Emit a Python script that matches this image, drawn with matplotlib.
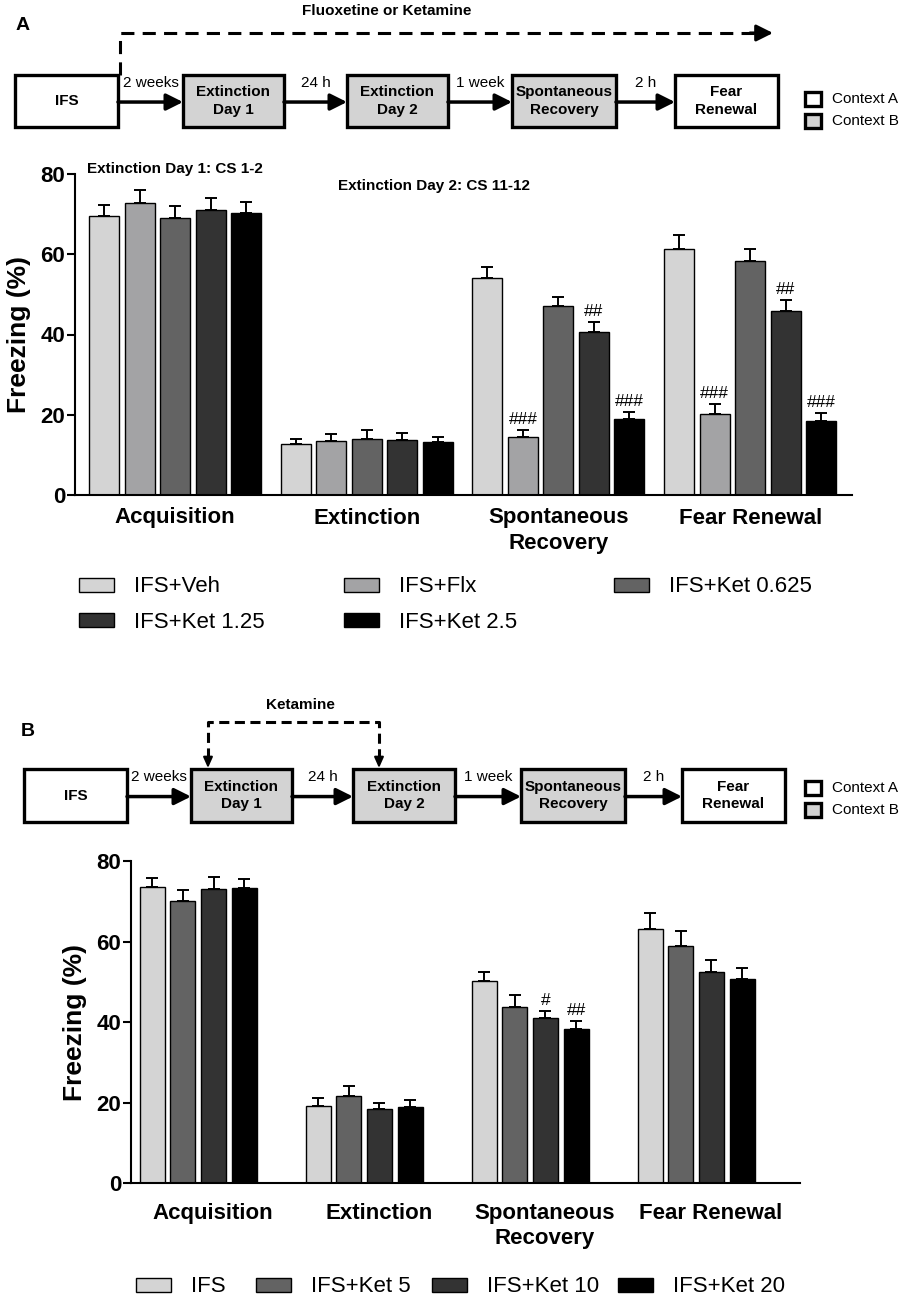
import numpy as np
import matplotlib
matplotlib.use('Agg')
import matplotlib.pyplot as plt
import matplotlib.transforms as mtransforms
from matplotlib.patches import Rectangle

plt.rcParams['font.family'] = ['Liberation Sans', 'DejaVu Sans']

# ---- data, panel A (freezing %, mean and SEM per phase) ----
phases = ['Acquisition', 'Extinction', 'Spontaneous\nRecovery', 'Fear Renewal']

a_labels = ['IFS+Veh', 'IFS+Flx', 'IFS+Ket 0.625', 'IFS+Ket 1.25', 'IFS+Ket 2.5']
a_colors = ['#d4d4d4', '#a3a3a5', '#636363', '#333333', '#000000']
a_veh = [69.6, 12.7, 54.0, 61.4]
a_flx = [72.7, 13.4, 14.4, 20.2]
a_ket0625 = [69.1, 13.9, 47.1, 58.4]
a_ket125 = [71.1, 13.6, 40.5, 45.8]
a_ket25 = [70.4, 13.3, 18.9, 18.5]
a_veh_sem = [2.6, 1.3, 2.8, 3.5]
a_flx_sem = [3.3, 1.7, 1.8, 2.5]
a_ket0625_sem = [3.0, 2.2, 2.3, 2.8]
a_ket125_sem = [3.0, 1.8, 2.6, 2.8]
a_ket25_sem = [2.6, 1.2, 1.8, 1.9]
a_veh_sig = ['', '', '', '']
a_flx_sig = ['', '', '###', '###']
a_ket0625_sig = ['', '', '', '']
a_ket125_sig = ['', '', '##', '##']
a_ket25_sig = ['', '', '###', '###']

# ---- data, panel B ----
b_labels = ['IFS', 'IFS+Ket 5', 'IFS+Ket 10', 'IFS+Ket 20']
b_colors = ['#d4d4d4', '#636363', '#333333', '#000000']
b_ifs = [73.5, 19.1, 50.2, 63.2]
b_ket5 = [70.1, 21.8, 43.9, 59.0]
b_ket10 = [73.0, 18.5, 41.0, 52.6]
b_ket20 = [73.3, 18.9, 38.3, 50.7]
b_ifs_sem = [2.3, 2.1, 2.3, 4.0]
b_ket5_sem = [2.8, 2.4, 2.8, 3.6]
b_ket10_sem = [3.1, 1.5, 1.8, 2.9]
b_ket20_sem = [2.3, 1.8, 2.0, 2.9]
b_ifs_sig = ['', '', '', '']
b_ket5_sig = ['', '', '', '']
b_ket10_sig = ['', '', '#', '']
b_ket20_sig = ['', '', '##', '']

W, H = 903, 1300
fig = plt.figure(figsize=(W / 100, H / 100), dpi=100)

# overlay in pixel coordinates for the protocol diagrams
ov = fig.add_axes([0, 0, 1, 1])
ov.set_xlim(0, W)
ov.set_ylim(H, 0)
ov.axis('off')

GRAY = '#d3d3d3'


def box(x0, x1, y0, y1, text, gray):
    ov.add_patch(Rectangle((x0, y0), x1 - x0, y1 - y0, fc=GRAY if gray else 'white',
                           ec='k', lw=2.4, zorder=3))
    ov.text((x0 + x1) / 2, (y0 + y1) / 2, text, ha='center', va='center',
            fontsize=11, fontweight='bold', linespacing=1.35, zorder=4)


def arrow(x0, x1, y, lw=2.5, scale=20, hw=0.25, hl=0.5):
    ov.annotate('', xy=(x1, y), xytext=(x0, y),
                arrowprops=dict(arrowstyle=f'-|>,head_length={hl},head_width={hw}',
                                lw=lw, color='k', shrinkA=0, shrinkB=0,
                                mutation_scale=scale))


def timeline(boxes, y0, y1, gaps, ctx_y):
    for (x0, x1, t, g) in boxes:
        box(x0, x1, y0, y1, t, g)
    ya = y0 + (y1 - y0) * 0.52
    for i, lab in enumerate(gaps):
        xa, xb = boxes[i][1], boxes[i + 1][0]
        arrow(xa, xb, ya)
        ov.text((xa + xb) / 2, y0 + 8, lab, ha='center', va='center', fontsize=11)
    for k, (lab, g) in enumerate([('Context A', False), ('Context B', True)]):
        yy = ctx_y + k * 22
        ov.add_patch(Rectangle((805, yy - 7), 16, 14, fc=GRAY if g else 'white',
                               ec='k', lw=2.4))
        ov.text(832, yy, lab, ha='left', va='center', fontsize=11)


gap_labels = ['2 weeks', '24 h', '1 week', '2 h']

# panel A protocol
ov.text(23, 25, 'A', fontsize=14, fontweight='bold', ha='center', va='center')
timeline([(15, 118, 'IFS', False), (183, 284, 'Extinction\nDay 1', True),
          (347, 448, 'Extinction\nDay 2', True), (512, 616, 'Spontaneous\nRecovery', True),
          (675, 778, 'Fear\nRenewal', False)], 75, 127, gap_labels, 99)
ov.plot([120, 120, 760], [75, 33, 33], color='k', lw=2.2, ls=(0, (4.3, 2.7)))
arrow(750, 773, 33, lw=2.2)
ov.text(387, 11, 'Fluoxetine or Ketamine', ha='center', va='center',
        fontsize=11, fontweight='bold')

# panel B protocol
ov.text(28, 732, 'B', fontsize=14, fontweight='bold', ha='center', va='center')
timeline([(24, 127, 'IFS', False), (191, 292, 'Extinction\nDay 1', True),
          (353, 455, 'Extinction\nDay 2', True), (521, 625, 'Spontaneous\nRecovery', True),
          (682, 785, 'Fear\nRenewal', False)], 769, 822, gap_labels, 788)
ov.plot([208, 208, 379, 379], [758, 722, 722, 758], color='k', lw=2.2, ls=(0, (3.3, 1.8)))
for xx in (208, 379):
    ov.annotate('', xy=(xx, 768), xytext=(xx, 756),
                arrowprops=dict(arrowstyle='-|>,head_length=0.45,head_width=0.2',
                                lw=1.5, color='k', shrinkA=0, shrinkB=0, mutation_scale=14))
ov.text(300, 705, 'Ketamine', ha='center', va='center', fontsize=11, fontweight='bold')


def bar_panel(rect, series, sems, sigs, colors, labels, period, width, xlim,
              label_shift, lab_pad, ylab_pad):
    ax = fig.add_axes(rect)
    ax.patch.set_alpha(0)
    handles = []
    ng = len(phases)
    for i, (m, s, sg) in enumerate(zip(series, sems, sigs)):
        xs = np.arange(ng) * period + i
        b = ax.bar(xs, m, width=width, color=colors[i], edgecolor='k', linewidth=1.0,
                   yerr=[np.zeros(ng), s], capsize=4.5,
                   error_kw=dict(elinewidth=1.4, capthick=1.4, ecolor='k'),
                   label=labels[i], zorder=2)
        handles.append(b)
        for xv, mv, sv, t in zip(xs, m, s, sg):
            if t:
                ax.annotate(t, (xv, mv + sv), xytext=(0, 7.5), textcoords='offset points',
                            ha='center', va='center', fontsize=12.5)
    ax.set_xlim(*xlim)
    ax.set_ylim(0, 80)
    ax.set_yticks([0, 20, 40, 60, 80], ['0', '20', '40', '60', '80'],
                  fontsize=16, fontweight='bold')
    centers = np.arange(ng) * period + (len(series) - 1) / 2
    ax.set_xticks(centers, phases, fontsize=16, fontweight='bold', linespacing=1.25)
    ax.tick_params(axis='x', length=0, pad=lab_pad)
    ax.tick_params(axis='y', direction='out', length=6, width=1.5, pad=1)
    for sp in ('top', 'right'):
        ax.spines[sp].set_visible(False)
    for sp in ('left', 'bottom'):
        ax.spines[sp].set_linewidth(1.5)
    ax.set_ylabel('Freezing (%)', fontsize=19, fontweight='bold', labelpad=ylab_pad)
    if label_shift:
        off = mtransforms.ScaledTranslation(label_shift / 100, 0, fig.dpi_scale_trans)
        for lbl in ax.get_xticklabels():
            lbl.set_transform(lbl.get_transform() + off)
    return ax, handles


axA, hA = bar_panel([75 / W, 1 - 495 / H, (852 - 75) / W, (495 - 174) / H],
                    [a_veh, a_flx, a_ket0625, a_ket125, a_ket25],
                    [a_veh_sem, a_flx_sem, a_ket0625_sem, a_ket125_sem, a_ket25_sem],
                    [a_veh_sig, a_flx_sig, a_ket0625_sig, a_ket125_sig, a_ket25_sig],
                    a_colors, a_labels, 5.40, 0.845, (-0.82, 21.07), 0, 9, 7)

axB, hB = bar_panel([131 / W, 1 - 1183.3 / H, (800 - 131) / W, (1183.3 - 861.3) / H],
                    [b_ifs, b_ket5, b_ket10, b_ket20],
                    [b_ifs_sem, b_ket5_sem, b_ket10_sem, b_ket20_sem],
                    [b_ifs_sig, b_ket5_sig, b_ket10_sig, b_ket20_sig],
                    b_colors, b_labels, 5.41, 0.815, (-0.69, 21.12), 15, 14, 7)

ov.text(87, 169, 'Extinction Day 1: CS 1-2', ha='left', va='center',
        fontsize=11, fontweight='bold')
ov.text(338, 186, 'Extinction Day 2: CS 11-12', ha='left', va='center',
        fontsize=11, fontweight='bold')


def legend_item(h, lab, x, y):
    fig.legend([h], [lab], loc='center left', bbox_to_anchor=(x / W, 1 - y / H),
               frameon=False, fontsize=16, handlelength=1.58, handleheight=0.6,
               handletextpad=0.88, borderpad=0, borderaxespad=0)


posA = [(79, 587), (344, 587), (614, 587), (79, 622), (344, 622)]
for h, lab, (x, y) in zip(hA, a_labels, posA):
    legend_item(h, lab, x, y)

posB = [(136, 1287), (256, 1287), (432, 1287), (618, 1287)]
for h, lab, (x, y) in zip(hB, b_labels, posB):
    legend_item(h, lab, x, y)

fig.savefig('out.png', dpi=100)
